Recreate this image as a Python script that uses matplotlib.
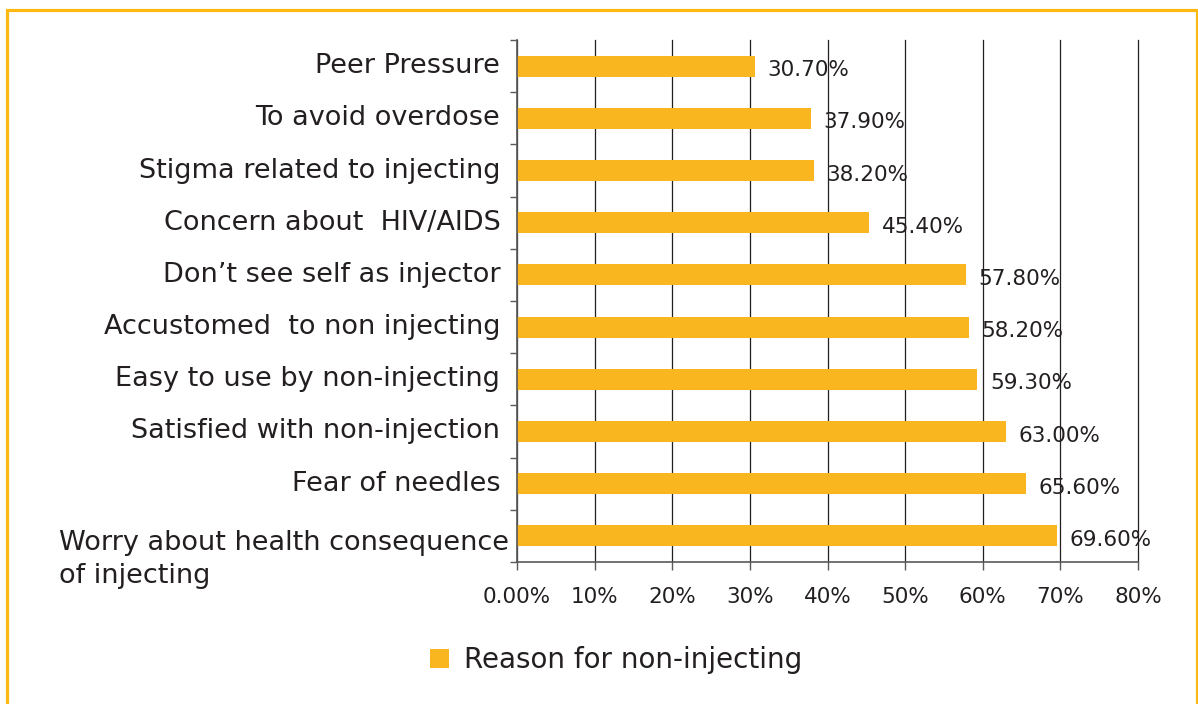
import matplotlib
matplotlib.use("Agg")
import matplotlib.pyplot as plt
from matplotlib.patches import Patch, Rectangle

# ==========================================
# 1. DATA
# ==========================================
CATEGORIES = [
    "Worry about health consequence\nof injecting",
    "Fear of needles",
    "Satisfied with non-injection",
    "Easy to use by non-injecting",
    "Accustomed  to non injecting",
    "Don\u2019t see self as injector",
    "Concern about  HIV/AIDS",
    "Stigma related to injecting",
    "To avoid overdose",
    "Peer Pressure",
]
VALUES = [69.6, 65.6, 63.0, 59.3, 58.2, 57.8, 45.4, 38.2, 37.9, 30.7]
VALUE_LABELS = ["69.60%", "65.60%", "63.00%", "59.30%", "58.20%",
                "57.80%", "45.40%", "38.20%", "37.90%", "30.70%"]
X_TICKS = [0, 10, 20, 30, 40, 50, 60, 70, 80]
X_TICK_LABELS = ["0.00%", "10%", "20%", "30%", "40%", "50%", "60%", "70%", "80%"]
SERIES_NAME = "Reason for non-injecting"

# ==========================================
# 2. STYLE
# ==========================================
BAR_COLOR = "#F9B61E"
BORDER_COLOR = "#FDB913"
TEXT_COLOR = "#231F20"
GRID_COLOR = "#231F20"
AXIS_COLOR = "#5A5A5A"

plt.rcParams.update({
    "font.family": "DejaVu Sans",
    "text.color": TEXT_COLOR,
    "xtick.color": AXIS_COLOR,
    "ytick.color": AXIS_COLOR,
    "xtick.labelcolor": TEXT_COLOR,
})

fig = plt.figure(figsize=(11.98, 7.04), dpi=100)
fig.patch.set_facecolor("white")
ax = fig.add_axes([517 / 1198, 1 - 562 / 704, 621 / 1198, 522 / 704])

# outer frame (open at the bottom like the reference crop)
fig.patches.append(Rectangle((7 / 1198, -0.05), 1189.5 / 1198, 1.05 - 9.5 / 704,
                             transform=fig.transFigure, fill=False,
                             edgecolor=BORDER_COLOR, linewidth=2.3))

# ==========================================
# 3. BARS
# ==========================================
y_pos = list(range(len(CATEGORIES)))
bars = ax.barh(y_pos, VALUES, height=0.4, color=BAR_COLOR, edgecolor="none", zorder=2)

ax.set_xlim(0, 80)
ax.set_ylim(-0.5, len(CATEGORIES) - 0.5)

ax.set_xticks(X_TICKS)
ax.set_xticklabels(X_TICK_LABELS, fontsize=15.5)
ax.tick_params(axis="x", direction="out", length=6, width=1, pad=12)

ax.set_yticks(y_pos)
ax.set_yticklabels([])
ax.tick_params(axis="y", which="major", length=0)
ax.set_yticks([i - 0.5 for i in range(len(CATEGORIES) + 1)], minor=True)
ax.tick_params(axis="y", which="minor", direction="out", length=5, width=1)

ax.grid(axis="x", color=GRID_COLOR, linewidth=0.9, zorder=1)
ax.set_axisbelow(True)
# keep the 80% line fully visible at the right edge
for gl in ax.get_xgridlines():
    gl.set_clip_on(False)

for side in ["top", "right"]:
    ax.spines[side].set_visible(False)
for side in ["left", "bottom"]:
    ax.spines[side].set_color(AXIS_COLOR)
    ax.spines[side].set_linewidth(1.2)
    ax.spines[side].set_zorder(3)

# category labels
for i, name in enumerate(CATEGORIES):
    if "\n" in name:
        ax.annotate(name, xy=(0, y_pos[i]), xycoords=("axes fraction", "data"),
                    xytext=(-6, -17), textcoords="offset points",
                    ha="right", va="center", multialignment="left",
                    linespacing=1.35, fontsize=19.5, color=TEXT_COLOR)
    else:
        ax.annotate(name, xy=(0, y_pos[i]), xycoords=("axes fraction", "data"),
                    xytext=(-12, 0), textcoords="offset points",
                    ha="right", va="center", fontsize=19.5, color=TEXT_COLOR)

# value labels
for bar, label in zip(bars, VALUE_LABELS):
    ax.annotate(label, xy=(bar.get_width(), bar.get_y() + bar.get_height() / 2),
                xytext=(9, -3), textcoords="offset points",
                ha="left", va="center", fontsize=15.5, color=TEXT_COLOR, zorder=4)

# ==========================================
# 4. LEGEND
# ==========================================
handle = Patch(facecolor=BAR_COLOR, edgecolor="none", label=SERIES_NAME)
fig.legend(handles=[handle], loc="center", bbox_to_anchor=(616 / 1198, 1 - 660 / 704),
           frameon=False, fontsize=20, handlelength=0.68, handleheight=0.68,
           handletextpad=0.55)

plt.savefig("out.png", dpi=100, facecolor="white")
plt.close()
